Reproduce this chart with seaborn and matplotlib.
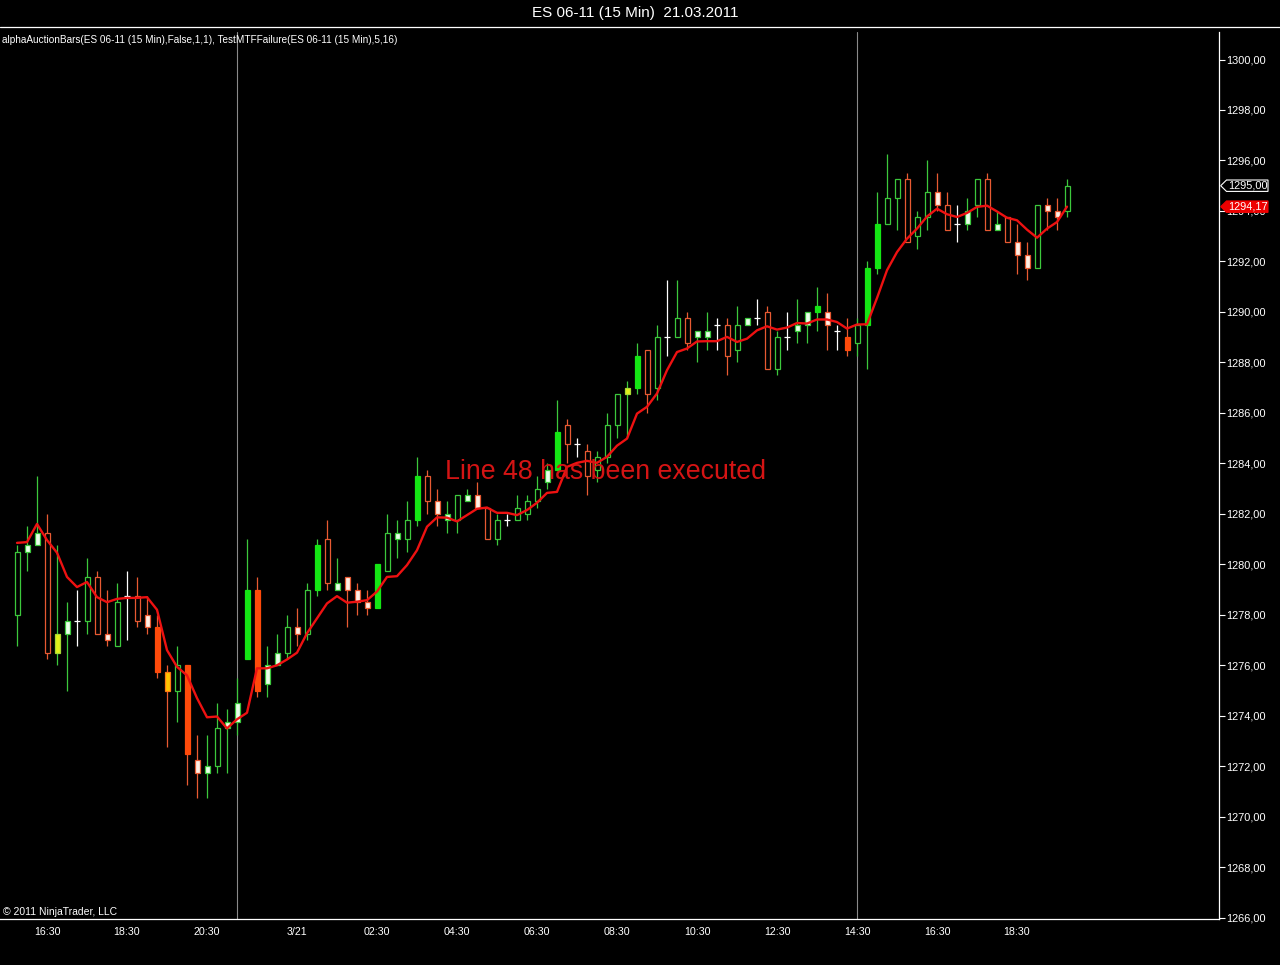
import matplotlib
matplotlib.use("Agg")
import matplotlib.pyplot as plt
import seaborn as sns
import numpy as np
import pandas as pd
from matplotlib.patches import Polygon
from matplotlib.lines import Line2D
from matplotlib.transforms import blended_transform_factory
from matplotlib.ticker import FuncFormatter, FixedLocator

# ---------------- data ----------------
opens = [1278.0, 1280.5, 1280.75, 1281.25, 1276.5, 1277.25, 1277.75, 1277.75, 1279.5, 1277.25,
         1276.75, 1278.75, 1278.75, 1278.0, 1277.5, 1275.75, 1275.0, 1276.0, 1272.25, 1271.75,
         1272.0, 1273.5, 1273.75, 1276.25, 1279.0, 1275.25, 1276.0, 1276.5, 1277.5, 1277.25,
         1279.0, 1281.0, 1279.0, 1279.5, 1279.0, 1278.5, 1278.25, 1279.75, 1281.0, 1281.0,
         1281.75, 1283.5, 1282.5, 1281.75, 1281.75, 1282.5, 1282.75, 1282.25, 1281.0, 1281.75,
         1281.75, 1282.0, 1282.5, 1283.25, 1283.75, 1285.5, 1284.75, 1284.5, 1283.75, 1284.25,
         1285.5, 1286.75, 1287.0, 1288.5, 1287.0, 1289.0, 1289.0, 1289.75, 1289.0, 1289.0,
         1289.5, 1289.5, 1288.5, 1289.5, 1289.75, 1290.0, 1287.75, 1289.0, 1289.25, 1289.5,
         1290.0, 1290.0, 1289.25, 1289.0, 1288.75, 1289.5, 1291.75, 1293.5, 1294.5, 1295.25,
         1293.0, 1293.75, 1294.75, 1294.25, 1293.5, 1293.5, 1294.25, 1295.25, 1293.25, 1293.75,
         1292.75, 1292.25, 1291.75, 1294.25, 1294.0, 1294.0]
highs = [1280.75, 1281.5, 1283.5, 1282.0, 1280.75, 1278.5, 1279.0, 1280.25, 1279.75, 1279.0,
         1279.25, 1279.75, 1279.5, 1278.75, 1278.0, 1276.0, 1276.75, 1276.0, 1273.25, 1273.25,
         1274.5, 1274.25, 1275.5, 1281.0, 1279.5, 1276.75, 1277.25, 1278.0, 1278.25, 1279.25,
         1281.0, 1281.75, 1280.25, 1279.5, 1279.25, 1279.0, 1280.0, 1282.0, 1281.75, 1282.5,
         1284.25, 1283.75, 1283.0, 1282.5, 1282.75, 1283.0, 1283.25, 1282.25, 1282.0, 1282.0,
         1282.75, 1282.75, 1283.5, 1284.0, 1286.5, 1285.75, 1285.0, 1284.75, 1284.5, 1286.0,
         1286.75, 1287.25, 1288.75, 1288.5, 1289.5, 1291.25, 1291.25, 1290.0, 1289.25, 1290.0,
         1289.75, 1289.75, 1290.25, 1289.75, 1290.5, 1290.25, 1289.25, 1290.0, 1290.5, 1290.0,
         1291.0, 1290.75, 1289.5, 1289.75, 1289.75, 1292.0, 1294.75, 1296.25, 1295.25, 1295.5,
         1294.0, 1296.0, 1295.5, 1294.75, 1294.25, 1294.5, 1295.25, 1295.5, 1294.0, 1293.75,
         1293.5, 1292.75, 1294.25, 1294.5, 1294.5, 1295.25]
lows = [1276.75, 1279.75, 1280.75, 1276.25, 1276.0, 1275.0, 1276.75, 1277.25, 1277.25, 1276.75,
        1276.75, 1277.0, 1277.5, 1277.25, 1275.5, 1272.75, 1273.75, 1271.25, 1270.75, 1270.75,
        1271.75, 1271.75, 1273.25, 1276.25, 1274.75, 1274.75, 1276.0, 1276.25, 1276.75, 1277.0,
        1278.75, 1279.0, 1279.0, 1277.5, 1278.0, 1278.0, 1278.25, 1279.75, 1280.25, 1280.5,
        1281.5, 1282.0, 1281.5, 1281.25, 1281.25, 1282.5, 1282.25, 1281.0, 1280.75, 1281.5,
        1281.75, 1281.75, 1282.25, 1283.0, 1283.75, 1284.0, 1284.25, 1282.75, 1283.25, 1284.0,
        1285.0, 1285.0, 1286.75, 1286.0, 1286.5, 1288.25, 1289.0, 1288.5, 1288.0, 1288.5,
        1288.5, 1287.5, 1288.0, 1289.5, 1289.5, 1287.75, 1287.5, 1288.5, 1288.75, 1288.75,
        1289.25, 1288.5, 1288.5, 1288.25, 1288.25, 1287.75, 1291.5, 1293.5, 1293.25, 1292.75,
        1292.5, 1293.25, 1294.0, 1293.25, 1292.75, 1293.25, 1293.75, 1293.25, 1293.25, 1292.75,
        1291.5, 1291.25, 1291.75, 1293.25, 1293.25, 1293.75]
closes = [1280.5, 1280.75, 1281.25, 1276.5, 1277.25, 1277.75, 1277.75, 1279.5, 1277.25, 1277.0,
          1278.5, 1278.75, 1277.75, 1277.5, 1275.75, 1275.0, 1276.0, 1272.5, 1271.75, 1272.0,
          1273.5, 1273.75, 1274.5, 1279.0, 1275.0, 1276.0, 1276.5, 1277.5, 1277.25, 1279.0,
          1280.75, 1279.25, 1279.25, 1279.0, 1278.5, 1278.25, 1280.0, 1281.25, 1281.25, 1281.75,
          1283.5, 1282.5, 1282.0, 1282.0, 1282.75, 1282.75, 1282.25, 1281.0, 1281.75, 1281.75,
          1282.25, 1282.5, 1283.0, 1283.75, 1285.25, 1284.75, 1284.75, 1283.5, 1284.25, 1285.5,
          1286.75, 1287.0, 1288.25, 1286.75, 1289.0, 1289.0, 1289.75, 1288.75, 1289.25, 1289.25,
          1289.5, 1288.25, 1289.5, 1289.75, 1289.75, 1287.75, 1289.0, 1289.0, 1289.5, 1290.0,
          1290.25, 1289.5, 1289.25, 1288.5, 1289.5, 1291.75, 1293.5, 1294.5, 1295.25, 1292.75,
          1293.75, 1294.75, 1294.25, 1293.25, 1293.5, 1294.0, 1295.25, 1293.25, 1293.5, 1292.75,
          1292.25, 1291.75, 1294.25, 1294.0, 1293.75, 1295.0]
# bar colour class: U hollow up, D hollow down, G filled up, R filled down,
# u light up, d light down, Y yellow (up), O amber (down), X doji
kinds = ['U', 'u', 'u', 'D', 'Y', 'u', 'X', 'U', 'D', 'd',
         'U', 'X', 'D', 'd', 'R', 'O', 'U', 'R', 'd', 'u',
         'U', 'u', 'u', 'G', 'R', 'u', 'u', 'U', 'd', 'U',
         'G', 'D', 'u', 'd', 'd', 'd', 'G', 'U', 'u', 'U',
         'G', 'D', 'd', 'u', 'U', 'u', 'd', 'D', 'U', 'X',
         'U', 'U', 'U', 'u', 'G', 'D', 'X', 'D', 'U', 'U',
         'U', 'Y', 'G', 'D', 'U', 'X', 'U', 'D', 'u', 'u',
         'X', 'D', 'U', 'u', 'X', 'D', 'U', 'X', 'u', 'u',
         'G', 'd', 'X', 'R', 'U', 'G', 'G', 'U', 'U', 'D',
         'U', 'U', 'd', 'D', 'X', 'u', 'U', 'D', 'u', 'D',
         'd', 'd', 'U', 'd', 'd', 'U']
ma = [1280.85, 1280.88, 1281.6, 1280.96, 1280.46, 1279.5, 1279.1, 1279.3, 1278.7, 1278.5,
      1278.63, 1278.67, 1278.67, 1278.7, 1278.2, 1276.6, 1275.94, 1275.6, 1274.7, 1273.94,
      1273.97, 1273.5, 1273.86, 1274.12, 1275.88, 1275.88, 1276.0, 1276.23, 1276.5, 1277.27,
      1277.86, 1278.45, 1278.74, 1278.48, 1278.52, 1278.58, 1278.92, 1279.5, 1279.53, 1279.97,
      1280.56, 1281.49, 1281.86, 1281.85, 1281.7, 1281.95, 1282.2, 1282.25, 1282.04, 1282.04,
      1281.95, 1282.15, 1282.44, 1282.83, 1282.87, 1283.86, 1284.02, 1284.1, 1284.02, 1284.26,
      1284.7, 1284.98, 1285.97, 1286.24, 1286.77, 1287.69, 1288.41, 1288.55, 1288.83, 1288.84,
      1288.84, 1289.01, 1288.81, 1288.94, 1289.27, 1289.43, 1289.3, 1289.38, 1289.56, 1289.54,
      1289.7, 1289.7, 1289.6, 1289.34, 1289.5, 1289.51, 1290.55, 1291.65, 1292.37, 1292.9,
      1293.3, 1293.78, 1294.09, 1293.87, 1293.76, 1293.92, 1294.16, 1294.21, 1293.98, 1293.73,
      1293.63, 1293.26, 1292.94, 1293.3, 1293.56, 1294.17]
tick_pos = [3, 11, 19, 28, 36, 44, 52, 60, 68, 76, 84, 92, 100]
tick_labels = ['16:30', '18:30', '20:30', '3/21', '02:30', '04:30', '06:30',
               '08:30', '10:30', '12:30', '14:30', '16:30', '18:30']
price_ticks = [1266, 1268, 1270, 1272, 1274, 1276, 1278, 1280, 1282, 1284,
               1286, 1288, 1290, 1292, 1294, 1296, 1298, 1300]
session_breaks = [22, 84]

# ---------------- style ----------------
sns.set_theme(style="dark", rc={
    "axes.facecolor": "black", "figure.facecolor": "black",
    "savefig.facecolor": "black", "axes.edgecolor": "white",
    "text.color": "white", "xtick.color": "white", "ytick.color": "white",
    "axes.grid": False,
})
plt.rcParams["font.family"] = ["Liberation Sans", "DejaVu Sans"]

GE, GF = "#3cc83c", "#14e614"
RE, RF = "#e85a32", "#ff4a0a"
style = {  # face, edge, wick
    "U": ("black", GE, GE),
    "G": (GF, GF, GE),
    "u": ("#eaffea", GE, GE),
    "Y": ("#e2f01a", "#a8d832", GE),
    "D": ("black", RE, RE),
    "R": (RF, RF, RE),
    "d": ("#fff0e6", RE, RE),
    "O": ("#ffc400", "#ff7a10", RE),
}

df = pd.DataFrame({"idx": np.arange(len(opens)), "open": opens, "high": highs,
                   "low": lows, "close": closes, "kind": kinds, "ma": ma})

W, H = 1280, 965
fig = plt.figure(figsize=(W / 100, H / 100), dpi=100)
ax = fig.add_axes([0, 46 / H, 1219 / W, 887 / H])
ax.set_facecolor("black")

y_top = 1300 + 27.5 / 25.241
y_bot = 1266 - 1.3 / 25.241
ax.set_ylim(y_bot, y_top)
ax.set_xlim(-1.7, 120.2)

# session break lines
for s in session_breaks:
    ax.axvline(s, color="#8a8a8a", lw=0.8, zorder=1)

# wicks
wick_cols = [style[k][2] if k != "X" else "white" for k in df["kind"]]
ax.vlines(df["idx"], df["low"], df["high"], colors=wick_cols, lw=0.9, zorder=2)

# bodies
body = df[df["kind"] != "X"]
bottoms = np.minimum(body["open"], body["close"])
heights = np.abs(body["close"] - body["open"])
ax.bar(body["idx"], heights, bottom=bottoms, width=0.5,
       color=[style[k][0] for k in body["kind"]],
       edgecolor=[style[k][1] for k in body["kind"]],
       linewidth=0.9, zorder=3)

# doji crosses
doji = df[df["kind"] == "X"]
ax.hlines(doji["close"], doji["idx"] - 0.3, doji["idx"] + 0.3, colors="white", lw=0.9, zorder=3)

# moving average
sns.lineplot(data=df, x="idx", y="ma", ax=ax, color="#ee1111", lw=1.7, zorder=5)
ax.set_xlabel("")
ax.set_ylabel("")

# axes styling
for sp in ["top", "left"]:
    ax.spines[sp].set_visible(False)
for sp in ["bottom", "right"]:
    ax.spines[sp].set_color("white")
    ax.spines[sp].set_linewidth(0.9)
ax.yaxis.tick_right()
ax.yaxis.set_major_locator(FixedLocator(price_ticks))
ax.yaxis.set_major_formatter(FuncFormatter(lambda v, p: f"{v:.2f}".replace(".", ",")))
ax.set_xticks(tick_pos)
ax.set_xticklabels(tick_labels)
ax.tick_params(axis="y", which="major", direction="out", length=4.5, width=0.8,
               pad=0.6, labelsize=7.9, colors="white", right=True, left=False)
ax.tick_params(axis="x", which="major", direction="out", length=4, width=0.8,
               pad=1.5, labelsize=7.7, colors="white")

# price markers on the right axis
bt = blended_transform_factory(fig.transFigure, ax.transData)
hh = 5.7 / 25.241
tip, left, right = 1220.7 / W, 1226.5 / W, 1268 / W
last_close = closes[-1]
last_ma = ma[-1]
for val, face, edge in [(last_close, "black", "white"), (last_ma, "#ee0000", "#ee0000")]:
    poly = Polygon([(tip, val), (left, val + hh), (right, val + hh), (right, val - hh), (left, val - hh)],
                   closed=True, transform=bt, facecolor=face, edgecolor=edge, lw=0.8,
                   clip_on=False, zorder=20)
    ax.add_patch(poly)
    ax.text(1228 / W, val, f"{val:.2f}".replace(".", ","), transform=bt, color="white",
            fontsize=7.9, va="center", ha="left", clip_on=False, zorder=21)

# texts
fig.text(635.5 / W, 1 - 13 / H, "ES 06-11 (15 Min)  21.03.2011", ha="center", va="center",
         fontsize=11, color="white")
fig.add_artist(Line2D([0, 1], [1 - 27 / H, 1 - 27 / H], transform=fig.transFigure,
                      color="white", lw=0.9))
fig.text(2 / W, 1 - 40 / H,
         "alphaAuctionBars(ES 06-11 (15 Min),False,1,1), TestMTFFailure(ES 06-11 (15 Min),5,16)",
         ha="left", va="center", fontsize=7.2, color="white")
fig.text(3 / W, 1 - 912 / H, "\u00a9 2011 NinjaTrader, LLC", ha="left", va="center",
         fontsize=7.5, color="white")
fig.text(445 / W, 1 - 472 / H, "Line 48 has been executed", ha="left", va="center",
         fontsize=19.3, color="#d41414", zorder=30)

fig.savefig("out.png", dpi=100, facecolor="black")
